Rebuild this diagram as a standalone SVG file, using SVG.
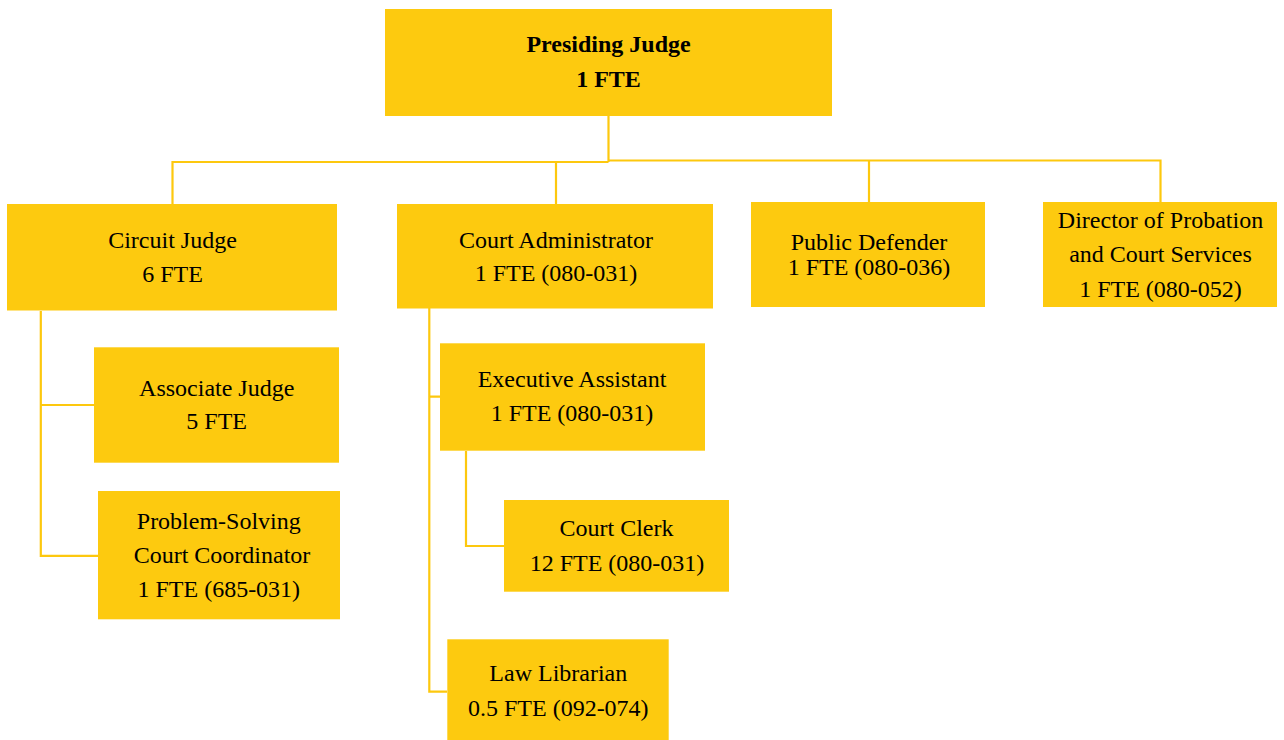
<svg xmlns="http://www.w3.org/2000/svg" width="1284" height="740" viewBox="0 0 1284 740">
<style>
.box{fill:#FDCA0F}
.t{font-family:"Liberation Serif","Times New Roman",serif;font-size:24px;fill:#000;text-anchor:middle}
.b{font-weight:bold}
.c{fill:none;stroke:#FDC80E;stroke-width:2.2}
</style>
<rect width="1284" height="740" fill="#fff"/>
<g id="connectors">
<path class="c" d="M608.5 116 V162 M172.5 204 V162 H608.5 M608.5 160.5 H1160.5 V202 M556 204 V162 M869 202 V160.5"/>
<path class="c" d="M40.8 311 V555.8 H98 M40.8 405 H94"/>
<path class="c" d="M429.3 308 V691.7 H447 M429.3 396.7 H440"/>
<path class="c" d="M466 451 V546 H504"/>
</g>
<g id="presiding">
<rect class="box" x="385" y="9" width="447" height="107"/>
<text class="t b" x="608.5" y="52">Presiding Judge</text>
<text class="t b" x="608.5" y="87">1 FTE</text>
</g>
<g id="circuit">
<rect class="box" x="7" y="204" width="330" height="106.5"/>
<text class="t" x="172.5" y="247.5">Circuit Judge</text>
<text class="t" x="172.5" y="282">6 FTE</text>
</g>
<g id="admin">
<rect class="box" x="397" y="204" width="316" height="104.5"/>
<text class="t" x="556" y="247.5">Court Administrator</text>
<text class="t" x="556" y="280.5">1 FTE (080-031)</text>
</g>
<g id="defender">
<rect class="box" x="751" y="202" width="234" height="105"/>
<text class="t" x="869" y="250">Public Defender</text>
<text class="t" x="869" y="275">1 FTE (080-036)</text>
</g>
<g id="director">
<rect class="box" x="1043" y="202" width="234" height="105"/>
<text class="t" x="1160.5" y="228">Director of Probation</text>
<text class="t" x="1160.5" y="262">and Court Services</text>
<text class="t" x="1160.5" y="297">1 FTE (080-052)</text>
</g>
<g id="associate">
<rect class="box" x="94" y="347.3" width="245" height="115.4"/>
<text class="t" x="216.7" y="395.7">Associate Judge</text>
<text class="t" x="216.7" y="429">5 FTE</text>
</g>
<g id="problem">
<rect class="box" x="98" y="491" width="242" height="128.3"/>
<text class="t" x="218.8" y="529.3">Problem-Solving</text>
<text class="t" x="222" y="563">Court Coordinator</text>
<text class="t" x="218.8" y="596.7">1 FTE (685-031)</text>
</g>
<g id="exec">
<rect class="box" x="440" y="343.3" width="265" height="107.4"/>
<text class="t" x="572" y="387.3">Executive Assistant</text>
<text class="t" x="572" y="421">1 FTE (080-031)</text>
</g>
<g id="clerk">
<rect class="box" x="504" y="500" width="225" height="91.7"/>
<text class="t" x="616.5" y="536">Court Clerk</text>
<text class="t" x="617" y="570.7">12 FTE (080-031)</text>
</g>
<g id="librarian">
<rect class="box" x="447.3" y="639.3" width="221.4" height="101"/>
<text class="t" x="558.3" y="681">Law Librarian</text>
<text class="t" x="558.3" y="716">0.5 FTE (092-074)</text>
</g>
</svg>
